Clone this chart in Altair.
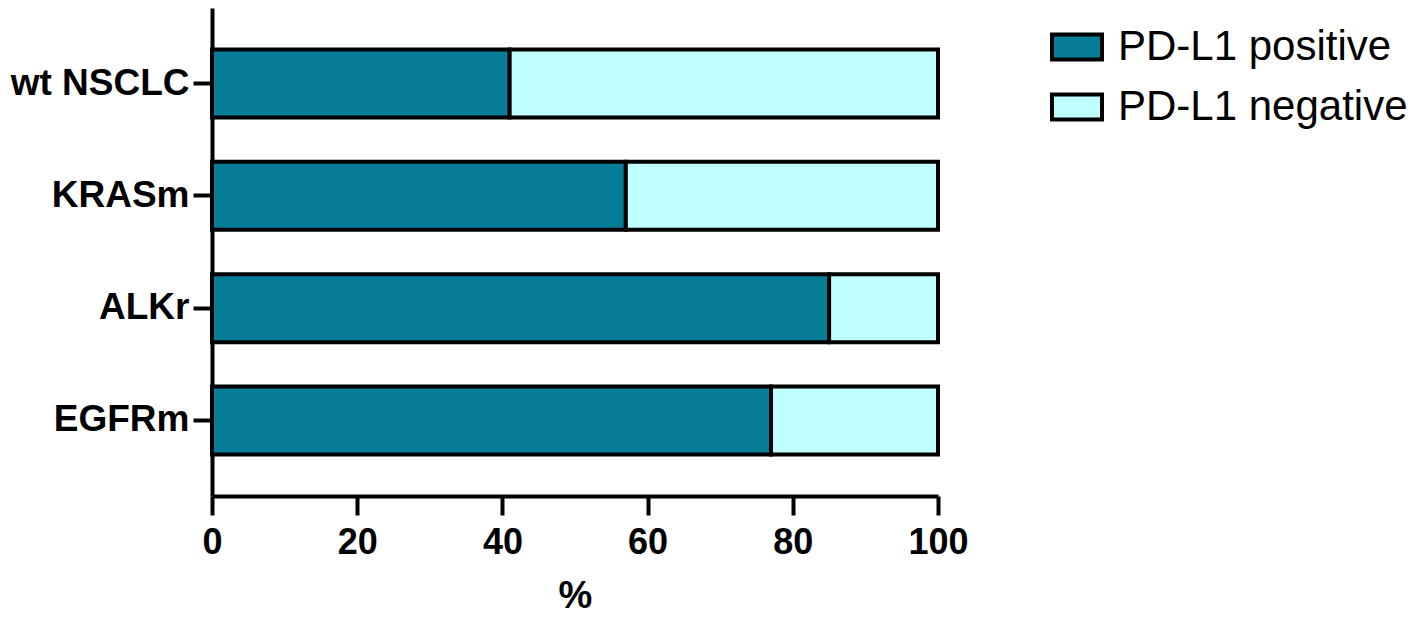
import altair as alt
import pandas as pd

categories = ["wt NSCLC", "KRASm", "ALKr", "EGFRm"]
positive = [41, 57, 85, 77]
negative = [59, 43, 15, 23]
series = ["PD-L1 positive", "PD-L1 negative"]
colors = ["#077D97", "#BFFFFF"]
x_ticks = [0, 20, 40, 60, 80, 100]

rows = []
for c, p, n in zip(categories, positive, negative):
    rows.append({"group": c, "series": series[0], "value": p, "ord": 0})
    rows.append({"group": c, "series": series[1], "value": n, "ord": 1})
df = pd.DataFrame(rows)

font = "'Liberation Sans', Arial, Helvetica, sans-serif"

chart = alt.Chart(df).mark_bar(stroke="black", strokeWidth=4).encode(
    y=alt.Y("group:N", sort=categories,
            scale=alt.Scale(paddingInner=0.395, paddingOuter=0.37),
            axis=alt.Axis(title=None, domainColor="black", domainWidth=4,
                          tickColor="black", tickWidth=4, tickSize=19,
                          labelFont=font, labelFontWeight="bold",
                          labelFontSize=37, labelColor="black", labelPadding=4)),
    x=alt.X("value:Q", stack="zero",
            scale=alt.Scale(domain=[0, 100], nice=False),
            axis=alt.Axis(title="%", values=x_ticks, grid=False,
                          domainColor="black", domainWidth=4,
                          tickColor="black", tickWidth=4, tickSize=19,
                          labelFont=font, labelFontWeight="bold", labelFlush=False,
                          labelFontSize=36, labelColor="black", labelPadding=10,
                          titleFont=font, titleFontWeight="bold",
                          titleFontSize=38, titleColor="black", titlePadding=17)),
    color=alt.Color("series:N", sort=series,
                    scale=alt.Scale(domain=series, range=colors),
                    legend=alt.Legend(title=None, orient="none",
                                      legendX=838, legendY=12,
                                      symbolType="M-1,-0.5H1V0.5H-1Z",
                                      symbolSize=2500, symbolStrokeColor="black",
                                      symbolStrokeWidth=4, symbolOpacity=1,
                                      labelFont=font, labelFontSize=42, labelLimit=0,
                                      labelColor="black", labelOffset=14,
                                      rowPadding=12, padding=0)),
    order=alt.Order("ord:Q"),
).properties(
    width=726, height=488,
    padding={"left": 204, "top": 0, "right": 472, "bottom": 124},
    autosize="none",
).configure_view(stroke=None)

chart.save("out.html", embed_options={"renderer": "svg", "actions": False})
